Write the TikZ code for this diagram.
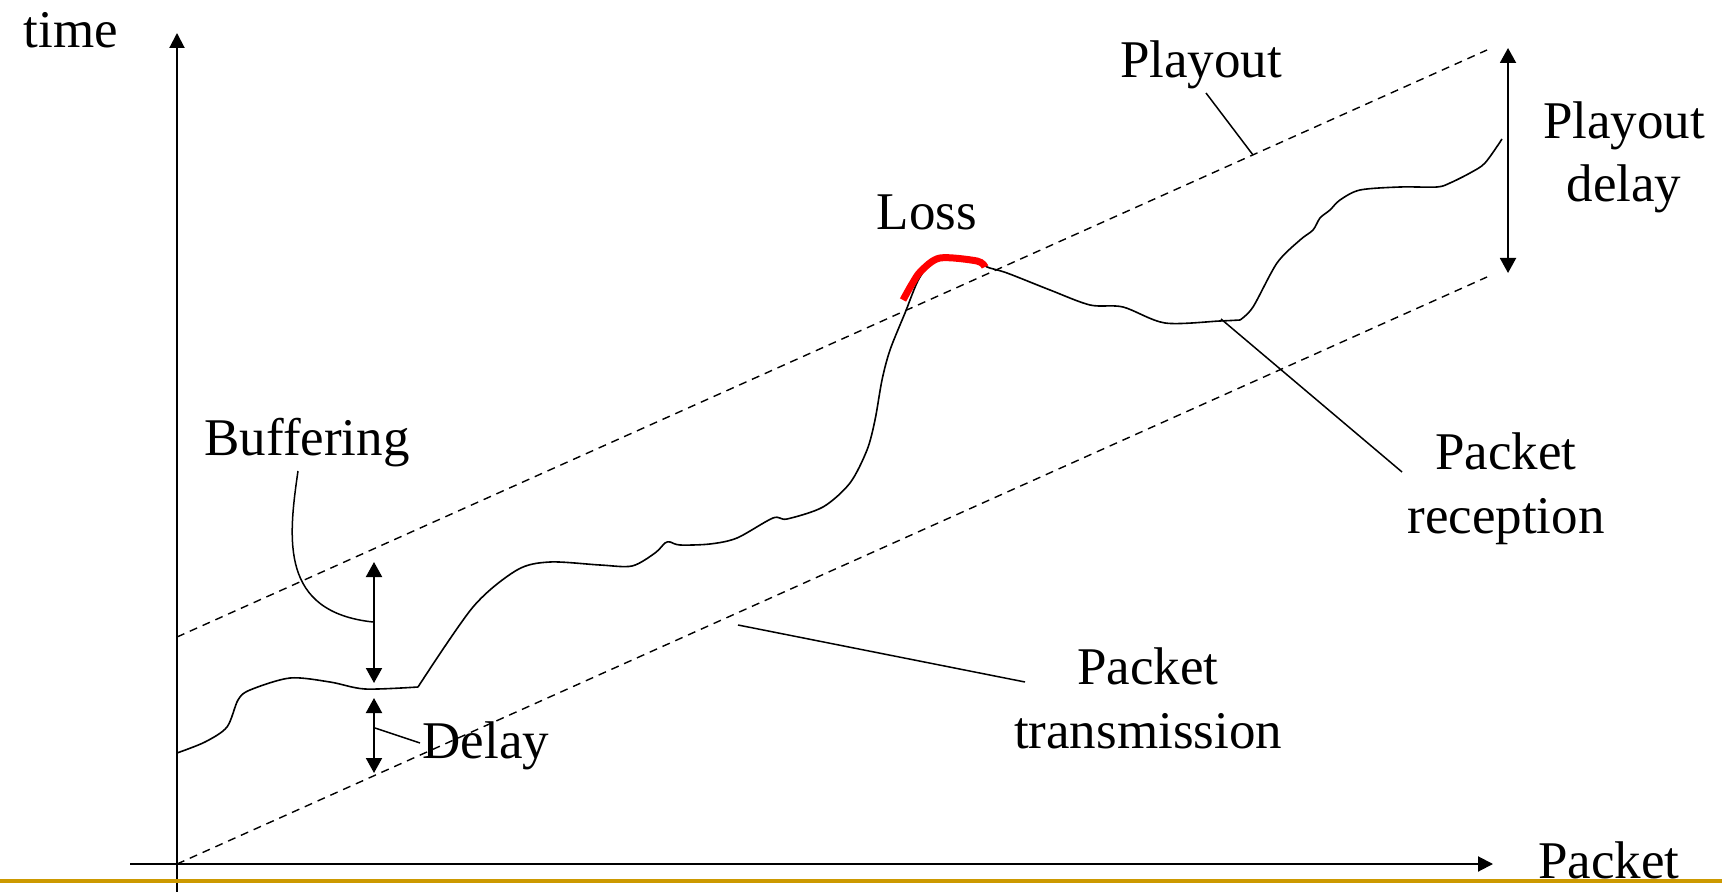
\documentclass[tikz,border=0pt]{standalone}
\usepackage{fontspec}
\setmainfont{Liberation Serif}
\usepackage[x11names]{xcolor}
\usetikzlibrary{calc, positioning, arrows.meta}
\definecolor{goldline}{RGB}{204,153,0}

\begin{document}
\begin{tikzpicture}[x=0.5pt,y=-0.5pt,
    lbl/.style={font=\fontsize{26.5}{31.8}\selectfont, inner sep=0pt, anchor=base, align=center},
    axis/.style={line width=1pt, -{Triangle[length=7.5pt,width=7.5pt]}},
    bound/.style={line width=0.7pt, dash pattern=on 4pt off 3pt},
    twohead/.style={line width=1pt, {Triangle[length=7.5pt,width=8pt]}-{Triangle[length=7.5pt,width=8pt]}},
    pointer/.style={line width=0.75pt}]
  \useasboundingbox (0,0) rectangle (1722,892);
  % axes
  \coordinate (O) at (177,864);
  \coordinate (ybot) at (177,892);
  \coordinate (ytop) at (177,33);
  \coordinate (xleft) at (130,864);
  \coordinate (xright) at (1493,864);
  \draw[axis] (ybot) -- (ytop);
  \draw[axis] (xleft) -- (xright);
  % transmission and playout lines
  \draw[bound] (O) -- (1487,277) coordinate (T1);
  \draw[bound] (177,637) coordinate (P0) -- (1487,50) coordinate (P1);
  % packet reception
  \draw[line width=0.8pt] plot[smooth, tension=0.5] coordinates {
    (177,753) (205,742) (227,727) (238,700) (250,690) (290,678) (330,682) (365,689) (418,687)}
    plot[smooth, tension=0.5] coordinates {(418,687)
    (473,607) (517,570) (550,562) (600,565) (632,566) (655,553) (665,543) (670,542) (680,545)
    (710,544) (737,538) (773,518) (787,519) (823,507) (850,483) (867,450) (875,420) (882,380)
    (890,350) (905,313) (920,277) (940,257) (977,260) (987,267) (1007,273) (1050,290) (1090,305)
    (1123,307) (1165,323) (1220,321) (1240,320)}
    plot[smooth, tension=0.5] coordinates {(1240,320) (1253,307) (1277,263) (1300,240) (1313,230)
    (1320,218) (1330,210) (1340,200) (1360,190) (1400,187) (1437,187) (1450,183) (1470,173)
    (1485,163) (1502,139)};
  \draw[red, line width=3.5pt] plot[smooth] coordinates {(903,300) (912,284) (921,271) (940,258) (977,261) (985,267)};
  % delay arrows
  \coordinate (buf-top) at (374,562);
  \coordinate (buf-bot) at (374,683);
  \coordinate (del-top) at (374,698);
  \coordinate (del-bot) at (374,773);
  \coordinate (pd-top) at (1508,48);
  \coordinate (pd-bot) at (1508,273);
  \draw[twohead] (buf-top) -- (buf-bot);
  \draw[twohead] (del-top) -- (del-bot);
  \draw[twohead] (pd-top) -- (pd-bot);
  % labels
  \node[lbl] (time) at (71,48) {time};
  \node[lbl] (playout) at (1201,78) {Playout};
  \node[lbl] (pdelay) at (1624,202) {Playout\\delay};
  \node[lbl] (loss) at (927,230) {Loss};
  \node[lbl] (buffering) at (307,456) {Buffering};
  \node[lbl] (delay) at (486,758) {Delay};
  \node[lbl] (recv) at (1506,533) {Packet\\reception};
  \node[lbl] (send) at (1148,748) {Packet\\transmission};
  \node[lbl] (xlabel) at (1609,878) {Packet};
  % pointers
  \coordinate (pl-tag) at (1206,93);
  \coordinate (pl-hit) at (1253,155);
  \coordinate (rc-tag) at (1402,472);
  \coordinate (rc-hit) at (1221,319);
  \coordinate (tx-tag) at (1025,682);
  \coordinate (tx-hit) at (738,625);
  \coordinate (bf-tag) at (298,471);
  \coordinate (bf-hit) at (373,622);
  \coordinate (dl-tag) at (420,743);
  \coordinate (dl-hit) at (375,728);
  \draw[pointer] (pl-tag) -- (pl-hit);
  \draw[pointer] (rc-tag) -- (rc-hit);
  \draw[pointer] (tx-tag) -- (tx-hit);
  \draw[pointer] (bf-tag) .. controls (288,540) and (280,612) .. (bf-hit);
  \draw[pointer] (dl-tag) -- (dl-hit);
  % bottom rule
  \draw[goldline, line width=2pt] (0,881) -- (1722,881);
\end{tikzpicture}
\end{document}
